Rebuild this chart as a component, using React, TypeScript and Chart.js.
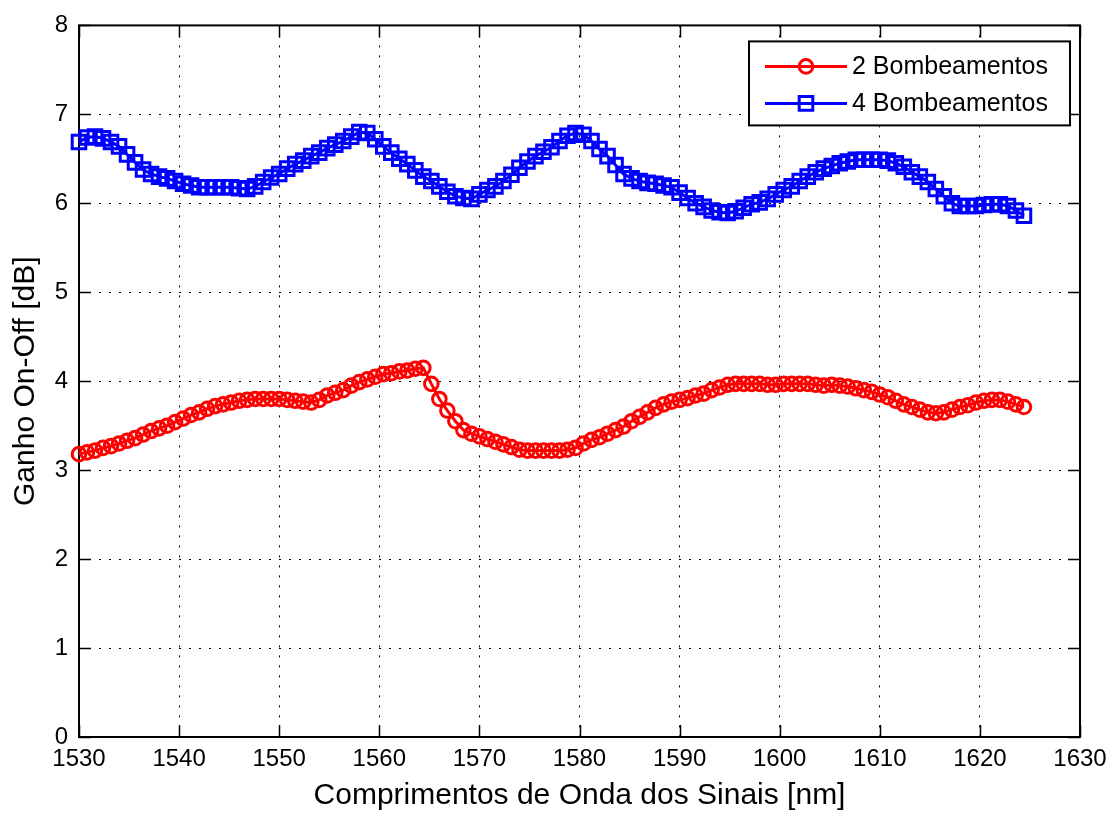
import React, { useEffect, useRef } from 'react';
import { Chart, registerables } from 'chart.js';

Chart.register(...registerables);

// ---- data ----
const wavelengths = [
  1530.0, 1530.8, 1531.6, 1532.4, 1533.2, 1534.0, 1534.8, 1535.6, 1536.4, 1537.2,
  1538.0, 1538.8, 1539.6, 1540.4, 1541.2, 1542.0, 1542.8, 1543.6, 1544.4, 1545.2,
  1546.0, 1546.8, 1547.6, 1548.4, 1549.2, 1550.0, 1550.8, 1551.6, 1552.4, 1553.2,
  1554.0, 1554.8, 1555.6, 1556.4, 1557.2, 1558.0, 1558.8, 1559.6, 1560.4, 1561.2,
  1562.0, 1562.8, 1563.6, 1564.4, 1565.2, 1566.0, 1566.8, 1567.6, 1568.4, 1569.2,
  1570.0, 1570.8, 1571.6, 1572.4, 1573.2, 1574.0, 1574.8, 1575.6, 1576.4, 1577.2,
  1578.0, 1578.8, 1579.6, 1580.4, 1581.2, 1582.0, 1582.8, 1583.6, 1584.4, 1585.2,
  1586.0, 1586.8, 1587.6, 1588.4, 1589.2, 1590.0, 1590.8, 1591.6, 1592.4, 1593.2,
  1594.0, 1594.8, 1595.6, 1596.4, 1597.2, 1598.0, 1598.8, 1599.6, 1600.4, 1601.2,
  1602.0, 1602.8, 1603.6, 1604.4, 1605.2, 1606.0, 1606.8, 1607.6, 1608.4, 1609.2,
  1610.0, 1610.8, 1611.6, 1612.4, 1613.2, 1614.0, 1614.8, 1615.6, 1616.4, 1617.2,
  1618.0, 1618.8, 1619.6, 1620.4, 1621.2, 1622.0, 1622.8, 1623.6, 1624.4,
];

const gain2Pumps = [
  3.18, 3.20, 3.22, 3.25, 3.27, 3.30, 3.33, 3.36, 3.40, 3.44,
  3.47, 3.50, 3.54, 3.58, 3.62, 3.65, 3.69, 3.72, 3.74, 3.76,
  3.78, 3.79, 3.80, 3.80, 3.80, 3.80, 3.79, 3.78, 3.77, 3.76,
  3.79, 3.84, 3.87, 3.90, 3.95, 3.99, 4.02, 4.05, 4.08, 4.09,
  4.11, 4.12, 4.14, 4.15, 3.97, 3.80, 3.67, 3.55, 3.45, 3.41,
  3.38, 3.35, 3.32, 3.29, 3.26, 3.23, 3.22, 3.22, 3.22, 3.22,
  3.22, 3.23, 3.25, 3.30, 3.34, 3.37, 3.41, 3.45, 3.49, 3.55,
  3.60, 3.65, 3.70, 3.74, 3.77, 3.79, 3.81, 3.84, 3.86, 3.90,
  3.93, 3.96, 3.97, 3.97, 3.97, 3.97, 3.96, 3.96, 3.97, 3.97,
  3.97, 3.97, 3.96, 3.95, 3.96, 3.95, 3.94, 3.92, 3.90, 3.88,
  3.85, 3.82, 3.78, 3.74, 3.71, 3.68, 3.65, 3.64, 3.65, 3.68,
  3.71, 3.73, 3.76, 3.78, 3.79, 3.79, 3.77, 3.74, 3.71,
];

const gain4Pumps = [
  6.69, 6.74, 6.75, 6.73, 6.69, 6.64, 6.55, 6.46, 6.38, 6.33,
  6.30, 6.28, 6.25, 6.22, 6.20, 6.18, 6.18, 6.18, 6.18, 6.18,
  6.17, 6.16, 6.19, 6.24, 6.29, 6.33, 6.39, 6.44, 6.48, 6.53,
  6.57, 6.62, 6.66, 6.70, 6.75, 6.80, 6.79, 6.72, 6.64, 6.57,
  6.50, 6.44, 6.37, 6.30, 6.25, 6.19, 6.13, 6.08, 6.06, 6.05,
  6.10, 6.15, 6.19, 6.25, 6.32, 6.40, 6.47, 6.53, 6.58, 6.63,
  6.70, 6.76, 6.79, 6.77, 6.70, 6.61, 6.53, 6.43, 6.33, 6.28,
  6.25, 6.23, 6.22, 6.20, 6.18, 6.12, 6.06, 6.00, 5.96, 5.92,
  5.90, 5.89, 5.91, 5.95, 5.99, 6.01, 6.05, 6.10, 6.15, 6.19,
  6.25, 6.30, 6.35, 6.39, 6.42, 6.45, 6.47, 6.49, 6.49, 6.49,
  6.49, 6.48, 6.45, 6.41, 6.35, 6.30, 6.24, 6.16, 6.08, 6.00,
  5.97, 5.97, 5.97, 5.98, 5.99, 5.99, 5.97, 5.92, 5.86,
];

const xTicks = [1530, 1540, 1550, 1560, 1570, 1580, 1590, 1600, 1610, 1620, 1630];
const yTicks = [0, 1, 2, 3, 4, 5, 6, 7, 8];
const seriesLabels = ['2 Bombeamentos', '4 Bombeamentos'];
const xTitle = 'Comprimentos de Onda dos Sinais [nm]';
const yTitle = 'Ganho On-Off [dB]';

const FONT = "'Liberation Sans', Arial, Helvetica, sans-serif";

const boxPlugin = {
  id: 'matlabBox',
  beforeDatasetsDraw(chart: any) {
    const { ctx, chartArea, scales } = chart;
    const { left, right, top, bottom } = chartArea;
    ctx.save();
    ctx.setLineDash([]);
    ctx.strokeStyle = '#000';
    ctx.lineWidth = 2;
    ctx.strokeRect(left, top, right - left, bottom - top);
    const tl = 12;
    ctx.lineWidth = 1.5;
    ctx.beginPath();
    xTicks.forEach((v) => {
      const px = Math.round(scales.x.getPixelForValue(v)) + 0.5;
      ctx.moveTo(px, bottom);
      ctx.lineTo(px, bottom - tl);
      ctx.moveTo(px, top);
      ctx.lineTo(px, top + tl);
    });
    yTicks.forEach((v) => {
      const py = Math.round(scales.y.getPixelForValue(v)) + 0.5;
      ctx.moveTo(left, py);
      ctx.lineTo(left + tl, py);
      ctx.moveTo(right, py);
      ctx.lineTo(right - tl, py);
    });
    ctx.stroke();
    ctx.restore();
  },
};

const legendPlugin = {
  id: 'matlabLegend',
  afterDraw(chart: any) {
    const { ctx, chartArea } = chart;
    const bw = 321;
    const bh = 84;
    const bx = chartArea.right - 10 - bw;
    const by = chartArea.top + 16;
    ctx.save();
    ctx.setLineDash([]);
    ctx.fillStyle = '#fff';
    ctx.fillRect(bx, by, bw, bh);
    ctx.strokeStyle = '#000';
    ctx.lineWidth = 2;
    ctx.strokeRect(bx, by, bw, bh);
    chart.data.datasets.forEach((ds: any, i: number) => {
      const cy = by + 25 + i * 37;
      ctx.strokeStyle = ds.borderColor;
      ctx.lineWidth = 3;
      ctx.beginPath();
      ctx.moveTo(bx + 16, cy);
      ctx.lineTo(bx + 98, cy);
      ctx.stroke();
      const mx = bx + 57;
      ctx.beginPath();
      if (ds.pointStyle === 'rect') {
        const s = ds.pointRadius * Math.SQRT1_2;
        ctx.rect(mx - s, cy - s, 2 * s, 2 * s);
      } else {
        ctx.arc(mx, cy, ds.pointRadius, 0, Math.PI * 2);
      }
      ctx.stroke();
      ctx.fillStyle = '#000';
      ctx.font = `25px ${FONT}`;
      ctx.textAlign = 'left';
      ctx.textBaseline = 'middle';
      ctx.fillText(ds.label, bx + 103, cy + 1);
    });
    ctx.restore();
  },
};

export default function App() {
  const canvasRef = useRef<HTMLCanvasElement | null>(null);

  useEffect(() => {
    if (!canvasRef.current) return;
    const chart = new Chart(canvasRef.current, {
      type: 'line',
      data: {
        datasets: [
          {
            label: seriesLabels[0],
            data: wavelengths.map((w, i) => ({ x: w, y: gain2Pumps[i] })),
            borderColor: '#ff0000',
            backgroundColor: 'transparent',
            borderWidth: 3,
            pointStyle: 'circle',
            pointRadius: 6.8,
            pointBorderWidth: 3,
            pointBorderColor: '#ff0000',
            pointBackgroundColor: 'transparent',
            tension: 0,
            clip: false as any,
          },
          {
            label: seriesLabels[1],
            data: wavelengths.map((w, i) => ({ x: w, y: gain4Pumps[i] })),
            borderColor: '#0000ff',
            backgroundColor: 'transparent',
            borderWidth: 3,
            pointStyle: 'rect',
            pointRadius: 9.6,
            pointBorderWidth: 3,
            pointBorderColor: '#0000ff',
            pointBackgroundColor: 'transparent',
            tension: 0,
            clip: false as any,
          },
        ],
      },
      options: {
        animation: false,
        responsive: false,
        maintainAspectRatio: false,
        devicePixelRatio: 1,
        layout: { padding: { top: 17, right: 37, left: 0, bottom: 0 } },
        plugins: {
          legend: { display: false },
          tooltip: { enabled: false },
          title: { display: false },
        },
        scales: {
          x: {
            type: 'linear',
            min: 1530,
            max: 1630,
            afterBuildTicks: (s: any) => {
              s.ticks = xTicks.map((v) => ({ value: v }));
            },
            afterFit: (s: any) => {
              s.height = 80;
            },
            ticks: {
              font: { family: FONT, size: 24 },
              color: '#000',
              padding: 8,
              maxRotation: 0,
              autoSkip: false,
              callback: (v: any) => String(v),
            },
            grid: { color: '#000', lineWidth: 1, drawTicks: false },
            border: { display: false, dash: [2, 8] },
            title: {
              display: true,
              text: xTitle,
              font: { family: FONT, size: 30 },
              color: '#000',
              padding: { top: 0, bottom: 3 },
            },
          },
          y: {
            type: 'linear',
            min: 0,
            max: 8,
            afterBuildTicks: (s: any) => {
              s.ticks = yTicks.map((v) => ({ value: v }));
            },
            afterFit: (s: any) => {
              s.width = 79;
            },
            ticks: {
              font: { family: FONT, size: 24 },
              color: '#000',
              padding: 11,
              autoSkip: false,
              callback: (v: any) => String(v),
            },
            grid: { color: '#000', lineWidth: 1, drawTicks: false },
            border: { display: false, dash: [2, 8] },
            title: {
              display: true,
              text: yTitle,
              font: { family: FONT, size: 30 },
              color: '#000',
              padding: { top: 8, bottom: 0 },
            },
          },
        },
      },
      plugins: [boxPlugin, legendPlugin],
    });
    return () => chart.destroy();
  }, []);

  return (
    <div style={{ position: 'absolute', left: 0, top: 0, width: 1117, height: 817, background: '#fff' }}>
      <canvas ref={canvasRef} width={1117} height={817} style={{ display: 'block' }} />
    </div>
  );
}
